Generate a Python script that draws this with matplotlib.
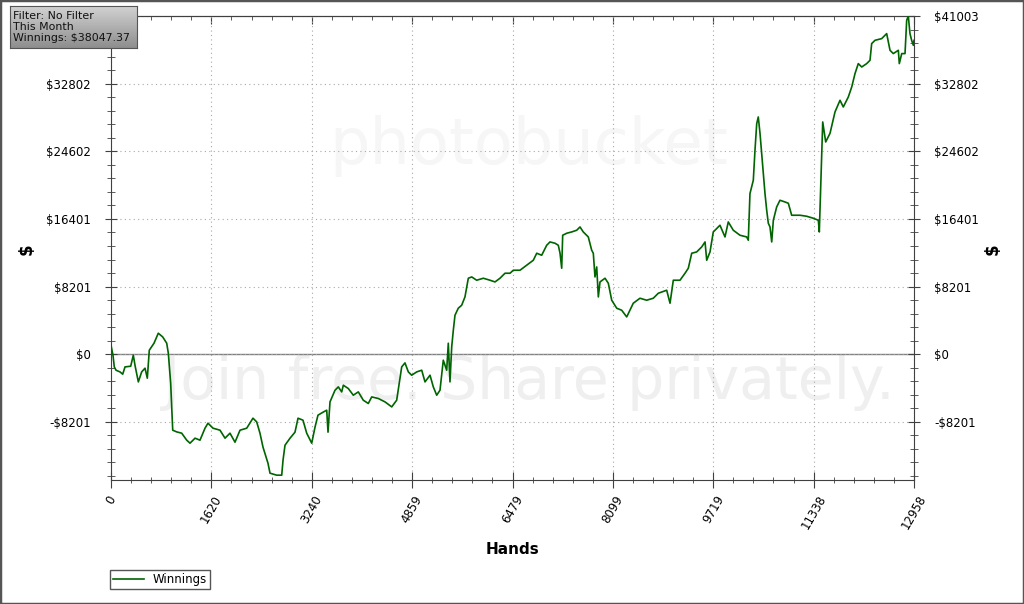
import numpy as np
import matplotlib.pyplot as plt
from matplotlib.patches import Rectangle
from matplotlib.colors import LinearSegmentedColormap
from matplotlib.ticker import FixedLocator, MultipleLocator

# hands played (x) and cumulative winnings in $ (y)
hands = [0, 32, 53, 81, 145, 189, 226, 318, 360, 387, 441, 495, 549, 586, 618,
         694, 763, 834, 899, 925, 963, 996, 1060, 1141, 1222, 1275, 1356, 1436,
         1517, 1565, 1646, 1759, 1840, 1920, 2001, 2082, 2190, 2291, 2351, 2404,
         2453, 2533, 2566, 2674, 2755, 2776, 2808, 2889, 2969, 3018, 3098, 3158,
         3239, 3292, 3340, 3421, 3481, 3502, 3534, 3615, 3668, 3723, 3749, 3829,
         3910, 3991, 4071, 4152, 4207, 4313, 4422, 4530, 4610, 4691, 4744, 4798,
         4852, 4933, 5014, 5067, 5148, 5201, 5256, 5309, 5362, 5417, 5443, 5470,
         5498, 5524, 5551, 5604, 5659, 5712, 5766, 5821, 5901, 6008, 6116, 6197,
         6277, 6358, 6439, 6492, 6600, 6708, 6815, 6870, 6950, 7031, 7084, 7165,
         7218, 7246, 7273, 7289, 7354, 7434, 7515, 7568, 7621, 7702, 7757, 7783,
         7810, 7838, 7864, 7891, 7972, 8025, 8080, 8161, 8241, 8322, 8428, 8536,
         8644, 8751, 8832, 8967, 9021, 9074, 9182, 9263, 9316, 9371, 9451, 9532,
         9586, 9613, 9666, 9719, 9827, 9908, 9961, 10042, 10150, 10258, 10284,
         10311, 10365, 10392, 10420, 10445, 10473, 10500, 10526, 10553, 10581,
         10607, 10634, 10662, 10688, 10742, 10795, 10876, 10930, 10984, 11037,
         11118, 11226, 11333, 11414, 11430, 11485, 11533, 11603, 11683, 11764,
         11817, 11898, 11953, 12006, 12059, 12114, 12195, 12248, 12275, 12329,
         12437, 12517, 12571, 12624, 12705, 12721, 12760, 12813, 12840, 12866,
         12893, 12920, 12947, 12958]
winnings = [1091, -121, -1539, -1939, -2145, -2424, -1539, -1454, -121, -1333,
            -3357, -2145, -1697, -2909, 485, 1333, 2545, 2097, 1333, 121, -3515,
            -9211, -9417, -9575, -10423, -10787, -10181, -10423, -8969, -8363,
            -8969, -9211, -10181, -9575, -10666, -9211, -8969, -7757, -8205,
            -9575, -11272, -13211, -14423, -14665, -14665, -12847, -11029,
            -10181, -9454, -7757, -7999, -9575, -10787, -8848, -7393, -7030,
            -6787, -9454, -5781, -4363, -3963, -4569, -3757, -4157, -4969,
            -4569, -5575, -5975, -5175, -5369, -5781, -6387, -5575, -1539,
            -1054, -2145, -2545, -2145, -1939, -3357, -2545, -3963, -4969,
            -4363, -727, -1939, 1333, -3357, 885, 2909, 4727, 5575, 5939, 6945,
            9211, 9369, 8969, 9211, 8969, 8763, 9211, 9817, 9817, 10181, 10181,
            10787, 11393, 12241, 11999, 13211, 13611, 13453, 13211, 12241,
            10423, 14423, 14665, 14823, 15029, 15429, 14823, 14217, 12605,
            12241, 9369, 10581, 6945, 8763, 9211, 8605, 6545, 5575, 5333, 4521,
            6181, 6787, 6545, 6787, 7393, 7757, 6181, 8969, 8969, 9817, 10423,
            12241, 12399, 13005, 13611, 11393, 12399, 14823, 15635, 14217,
            16035, 15029, 14423, 14217, 13817, 19477, 21089, 24725, 27961,
            28761, 26785, 24361, 21937, 19513, 17453, 15877, 15429, 13611,
            16241, 17853, 18665, 18459, 18301, 16847, 16847, 16847, 16726,
            16484, 16241, 14823, 28155, 25731, 26785, 29367, 30785, 29973,
            31185, 32397, 34021, 35233, 34821, 35233, 35633, 37657, 38057,
            38263, 38869, 36845, 36445, 36845, 35233, 36445, 36445, 40481,
            41003, 38869, 38057, 37451, 38047.37]

x_max = 12958
y_max = 41003
y_min = -15250
info_lines = ["Filter: No Filter", "This Month", "Winnings: $38047.37"]

line_color = "#006400"
axis_color = "#404040"


def fmt_int(v):
    # round half up, like the original chart labels
    return int(np.floor(abs(v) + 0.5))


fig = plt.figure(figsize=(10.24, 6.04), dpi=100)
fig.patch.set_facecolor("white")
ax = fig.add_axes([111 / 1024, 1 - 480 / 604, 803 / 1024, 464 / 604])

# faint watermark behind the data
ax.text(0.52, 0.21, "Join free. Share privately.", transform=ax.transAxes,
        ha="center", va="center", fontsize=42, color="#efefef", zorder=0)
ax.text(0.52, 0.72, "photobucket", transform=ax.transAxes,
        ha="center", va="center", fontsize=46, color="#f6f6f6", zorder=0)

ax.axhline(0, color="#808080", lw=1.0, zorder=1)
ax.plot(hands, winnings, color=line_color, lw=1.2, zorder=3, label="Winnings")

ax.set_xlim(0, x_max)
ax.set_ylim(y_min, y_max)

x_step = x_max / 8
y_step = y_max / 5
xt = [i * x_step for i in range(9)]
yt = [i * y_step for i in range(-1, 6)]
ax.xaxis.set_major_locator(FixedLocator(xt))
ax.xaxis.set_minor_locator(MultipleLocator(x_step / 5))
ax.yaxis.set_major_locator(FixedLocator(yt))
ax.yaxis.set_minor_locator(MultipleLocator(y_step / 5))
ax.set_xticklabels([str(fmt_int(v)) for v in xt], rotation=60,
                   ha="center", va="top", fontsize=8.5)
ylabels = []
for v in yt:
    if v < 0:
        ylabels.append("-$%d" % fmt_int(v))
    else:
        ylabels.append("$%d" % fmt_int(v))
ax.set_yticklabels(ylabels, fontsize=8.5)

ax.grid(True, which="major", color="#a8a8a8", lw=0.8, linestyle=(0, (1, 3)))
ax.tick_params(axis="x", which="major", direction="inout", length=11,
               color=axis_color, pad=4)
ax.tick_params(axis="x", which="minor", direction="inout", length=5,
               color=axis_color)
ax.tick_params(axis="y", which="major", direction="inout", length=9,
               color=axis_color, right=True, labelright=True, pad=10)
ax.tick_params(axis="y", which="minor", direction="inout", length=6,
               color=axis_color, right=True)
# the top-left label sits under the info box in the original
ax.yaxis.get_major_ticks()[-1].label1.set_visible(False)
for s in ax.spines.values():
    s.set_color(axis_color)

# top axis: ticks pointing inward only
top = ax.secondary_xaxis("top")
top.xaxis.set_major_locator(FixedLocator(xt))
top.xaxis.set_minor_locator(MultipleLocator(x_step / 5))
top.tick_params(which="major", direction="in", length=6, color=axis_color,
                labeltop=False)
top.tick_params(which="minor", direction="in", length=3, color=axis_color)
top.spines["top"].set_color(axis_color)

ax.set_xlabel("Hands", fontsize=11, fontweight="bold", labelpad=7)
fig.text(27 / 1024, 1 - 249 / 604, "$", rotation=90, fontsize=12,
         fontweight="bold", ha="center", va="center")
fig.text(993 / 1024, 1 - 249 / 604, "$", rotation=90, fontsize=12,
         fontweight="bold", ha="center", va="center")

leg = ax.legend(loc="lower left", bbox_to_anchor=(110 / 1024, 1 - 589 / 604),
                bbox_transform=fig.transFigure, fontsize=8.5, fancybox=False,
                framealpha=1, edgecolor="#555555", handlelength=2.6,
                borderpad=0.25, borderaxespad=0)
leg.get_frame().set_linewidth(1.0)

# info box with gray gradient
box = fig.add_axes([10 / 1024, 1 - 48 / 604, 127 / 1024, 42 / 604])
box_cmap = LinearSegmentedColormap.from_list("box", ["#d2d2d2", "#8e8e8e"])
grad = np.linspace(0, 1, 64).reshape(-1, 1)
box.imshow(grad, aspect="auto", cmap=box_cmap, extent=[0, 1, 0, 1],
           origin="upper")
box.set_xlim(0, 1)
box.set_ylim(0, 1)
box.set_xticks([])
box.set_yticks([])
for s in box.spines.values():
    s.set_color("#555555")
box.text(0.025, 0.5, "\n".join(info_lines), fontsize=7.9, ha="left",
         va="center", linespacing=1.12, color="#111111")

fig.patches.append(Rectangle((0, 0), 1, 1, transform=fig.transFigure,
                             fill=False, edgecolor="#555555", lw=2.5))

fig.savefig("out.png", dpi=100)
